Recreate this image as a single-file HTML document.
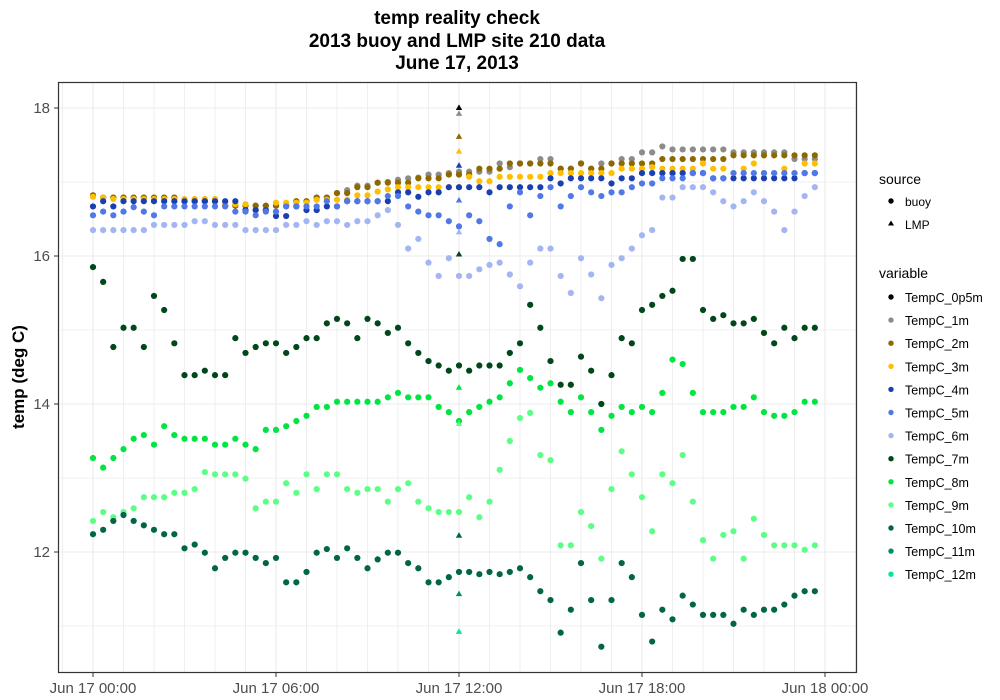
<!DOCTYPE html>
<html><head><meta charset="utf-8">
<style>
html,body{margin:0;padding:0;background:#fff;}
svg{display:block;font-family:"Liberation Sans",Arial,sans-serif;}
</style></head>
<body>
<svg id="chart" width="1000" height="700" viewBox="0 0 1000 700" xmlns="http://www.w3.org/2000/svg">
  <rect x="0" y="0" width="1000" height="700" fill="#fff"/>
  <g font-weight="bold" font-size="19" text-anchor="middle" fill="#000">
    <text x="457" y="24">temp reality check</text>
    <text x="457" y="47">2013 buoy and LMP site 210 data</text>
    <text x="457" y="69">June 17, 2013</text>
  </g>
  <g id="grid"></g>
  <g id="marks"></g>
  <rect x="58.5" y="82.5" width="798" height="590" fill="none" stroke="#333" stroke-width="1.2"/>
  <g id="axes"></g>
  <text transform="translate(24,377) rotate(-90)" font-size="17" font-weight="bold" text-anchor="middle" fill="#000">temp (deg C)</text>
  <g id="legend"></g>
</svg>
<script>
const NS='http://www.w3.org/2000/svg';
const hoursStep = 1/3;
const yTicks=[12,14,16,18];
const xTickLabels=['Jun 17 00:00','Jun 17 06:00','Jun 17 12:00','Jun 17 18:00','Jun 18 00:00'];
const xTickHours=[0,6,12,18,24];
const seriesNames=['TempC_0p5m','TempC_1m','TempC_2m','TempC_3m','TempC_4m','TempC_5m','TempC_6m','TempC_7m','TempC_8m','TempC_9m','TempC_10m','TempC_11m','TempC_12m'];
const seriesColors=['#000000','#8c8c8c','#8c6a00','#ffbf00','#1a3fb0','#5078e6','#a3b5f2','#00471a','#00e640','#5cff85','#006647','#008f6b','#00e6a3'];
const lmpValues=[18.0,17.92,17.61,17.41,17.22,16.75,16.32,16.02,14.22,13.73,12.22,11.43,10.92];
const lmpHour=12;
const temp1m=[16.82,16.79,16.79,16.79,16.79,16.79,16.79,16.79,16.79,16.74,16.74,16.74,16.74,16.68,16.68,16.68,16.68,16.68,16.68,16.68,16.74,16.74,16.79,16.79,16.85,16.89,16.95,16.95,16.99,17.0,17.03,17.05,17.06,17.1,17.1,17.12,17.14,17.14,17.14,17.14,17.25,17.2,17.25,17.25,17.31,17.31,17.18,17.18,17.25,17.18,17.25,17.25,17.31,17.31,17.4,17.4,17.48,17.44,17.44,17.44,17.44,17.44,17.44,17.4,17.4,17.4,17.4,17.4,17.4,17.31,17.31,17.31];
const temp2m=[16.82,16.79,16.79,16.79,16.79,16.79,16.79,16.79,16.79,16.74,16.74,16.74,16.74,16.68,16.68,16.68,16.68,16.68,16.68,16.68,16.74,16.74,16.79,16.79,16.85,16.85,16.93,16.93,16.99,16.99,16.99,16.99,17.05,17.05,17.05,17.1,17.1,17.1,17.18,17.18,17.18,17.25,17.25,17.25,17.25,17.25,17.18,17.18,17.25,17.18,17.18,17.25,17.25,17.25,17.25,17.25,17.31,17.31,17.31,17.31,17.31,17.31,17.31,17.36,17.36,17.36,17.36,17.36,17.36,17.36,17.36,17.36];
const temp3m=[16.8,16.79,16.77,16.77,16.77,16.77,16.77,16.77,16.77,16.77,16.77,16.77,16.77,16.7,16.7,16.7,16.62,16.62,16.72,16.72,16.72,16.72,16.76,16.76,16.76,16.76,16.82,16.82,16.87,16.9,16.93,16.93,16.93,16.93,16.93,16.93,16.93,17.07,17.01,17.01,17.07,17.07,17.07,17.07,17.07,17.12,17.12,17.12,17.12,17.12,17.12,17.12,17.18,17.18,17.18,17.2,17.18,17.18,17.18,17.18,17.25,17.18,17.18,17.12,17.18,17.25,17.12,17.12,17.18,17.12,17.25,17.25];
const temp4m=[16.67,16.74,16.67,16.74,16.74,16.74,16.74,16.74,16.74,16.74,16.74,16.74,16.74,16.74,16.74,16.62,16.62,16.62,16.54,16.54,16.67,16.62,16.62,16.67,16.67,16.74,16.74,16.74,16.74,16.74,16.86,16.86,16.8,16.86,16.86,16.93,16.93,16.93,16.93,16.86,16.93,16.93,16.93,16.93,16.93,17.05,16.98,17.05,17.05,17.05,17.05,16.98,17.05,17.05,17.12,17.12,17.12,17.12,17.12,17.12,17.12,17.05,17.05,17.05,17.05,17.05,17.05,17.05,17.05,17.05,17.12,17.12];
const temp5m=[16.55,16.6,16.55,16.6,16.66,16.6,16.55,16.67,16.67,16.67,16.67,16.67,16.67,16.67,16.6,16.6,16.55,16.6,16.6,16.67,16.67,16.67,16.67,16.74,16.67,16.74,16.74,16.74,16.74,16.81,16.81,16.67,16.6,16.55,16.55,16.47,16.4,16.55,16.47,16.23,16.16,16.67,16.86,16.55,16.81,16.93,16.67,16.81,16.93,16.86,16.81,16.86,16.86,16.93,16.98,16.98,17.05,17.05,17.05,17.12,17.12,17.05,17.05,17.12,17.12,17.12,17.12,17.12,17.12,17.12,17.12,17.12];
const temp6m=[16.35,16.35,16.35,16.35,16.35,16.35,16.42,16.42,16.42,16.42,16.47,16.47,16.42,16.42,16.42,16.35,16.35,16.35,16.35,16.42,16.42,16.47,16.42,16.47,16.47,16.42,16.47,16.47,16.55,16.62,16.42,16.1,16.23,15.91,15.73,15.97,15.73,15.73,15.82,15.88,15.91,15.75,15.59,15.91,16.1,16.1,15.73,15.5,15.97,15.75,15.43,15.88,15.97,16.1,16.28,16.35,16.79,16.79,16.93,16.93,16.93,16.86,16.74,16.67,16.74,16.86,16.74,16.6,16.35,16.6,16.81,16.93];
const temp7m=[15.85,15.65,14.77,15.03,15.03,14.77,15.46,15.27,14.82,14.39,14.39,14.45,14.39,14.39,14.89,14.69,14.77,14.82,14.82,14.69,14.77,14.89,14.89,15.09,15.15,15.09,14.89,15.15,15.09,14.96,15.03,14.82,14.69,14.58,14.52,14.45,14.52,14.45,14.52,14.52,14.52,14.69,14.82,15.34,15.03,14.58,14.26,14.26,14.64,14.45,14.0,14.39,14.89,14.82,15.27,15.34,15.46,15.53,15.96,15.96,15.27,15.15,15.2,15.09,15.09,15.15,14.96,14.82,15.03,14.89,15.03,15.03];
const temp8m=[13.27,13.14,13.27,13.39,13.53,13.58,13.45,13.7,13.58,13.53,13.53,13.53,13.45,13.45,13.53,13.45,13.39,13.65,13.65,13.7,13.77,13.84,13.96,13.96,14.03,14.03,14.03,14.03,14.03,14.09,14.15,14.09,14.09,14.09,13.96,13.89,13.77,13.89,13.96,14.03,14.09,14.28,14.46,14.35,14.22,14.28,14.03,13.89,14.09,13.89,13.65,13.84,13.96,13.89,13.96,13.89,14.15,14.6,14.54,14.15,13.89,13.89,13.89,13.96,13.96,14.09,13.89,13.84,13.84,13.89,14.03,14.03];
const temp9m=[12.42,12.54,12.47,12.54,12.59,12.74,12.74,12.74,12.8,12.8,12.85,13.08,13.05,13.05,13.05,12.99,12.59,12.68,12.68,12.93,12.8,13.05,12.85,13.05,13.05,12.85,12.8,12.85,12.85,12.68,12.85,12.93,12.68,12.59,12.54,12.54,12.54,12.74,12.47,12.68,13.11,13.5,13.81,13.88,13.31,13.24,12.09,12.09,12.54,12.35,11.91,12.85,13.36,13.05,12.74,12.28,13.05,12.93,13.31,12.68,12.16,11.91,12.23,12.28,11.91,12.45,12.23,12.09,12.09,12.09,12.03,12.09];
const temp10m=[12.24,12.3,12.42,12.5,12.42,12.36,12.3,12.24,12.24,12.05,12.1,11.99,11.78,11.92,11.99,11.99,11.92,11.85,11.92,11.59,11.59,11.73,11.99,12.04,11.92,12.05,11.92,11.78,11.9,11.99,11.99,11.85,11.78,11.59,11.59,11.66,11.73,11.73,11.7,11.73,11.7,11.73,11.78,11.66,11.47,11.35,10.91,11.22,11.85,11.35,10.72,11.35,11.85,11.66,11.15,10.79,11.22,11.09,11.41,11.29,11.15,11.15,11.15,11.03,11.22,11.15,11.22,11.22,11.29,11.41,11.47,11.47];
const buoySeries=[null,temp1m,temp2m,temp3m,temp4m,temp5m,temp6m,temp7m,temp8m,temp9m,temp10m,null,null];

const X0=93, XPH=30.5, Y18=108, YPD=74;
function xScale(h){return X0+h*XPH;}
function yScale(v){return Y18+(18-v)*YPD;}

const grid=document.getElementById('grid');
const bg=document.createElementNS(NS,'rect');
bg.setAttribute('x',58.5);bg.setAttribute('y',82.5);bg.setAttribute('width',798);bg.setAttribute('height',590);bg.setAttribute('fill','#fff');


grid.appendChild(bg);
for(let h=-1;h<=25;h++){
  const x=xScale(h); if(x<59||x>856)continue;
  const l=document.createElementNS(NS,'line');
  l.setAttribute('x1',x);l.setAttribute('x2',x);l.setAttribute('y1',83);l.setAttribute('y2',672);
  l.setAttribute('stroke','#ebebeb');l.setAttribute('stroke-width',h%6===0?1.1:0.8);
  
  
  grid.appendChild(l);
}
for(let v=11;v<=18;v+=1){
  const y=yScale(v);
  const l=document.createElementNS(NS,'line');
  l.setAttribute('x1',59);l.setAttribute('x2',856);l.setAttribute('y1',y);l.setAttribute('y2',y);
  l.setAttribute('stroke','#ebebeb');l.setAttribute('stroke-width',v%2===0?1.1:0.8);
  
  
  grid.appendChild(l);
}

const marks=document.getElementById('marks');
buoySeries.forEach((arr,si)=>{
  if(!arr)return;
  const g=document.createElementNS(NS,'g');
  
  
  arr.forEach((v,i)=>{
    const c=document.createElementNS(NS,'circle');
    c.setAttribute('cx',xScale(i*hoursStep));c.setAttribute('cy',yScale(v));c.setAttribute('r',3.1);
    c.setAttribute('fill',seriesColors[si]);
    
    
    g.appendChild(c);
  });
  marks.appendChild(g);
});
lmpValues.forEach((v,si)=>{
  const x=xScale(lmpHour), y=yScale(v);
  const p=document.createElementNS(NS,'polygon');
  p.setAttribute('points',`${x},${y-3.6} ${x-3.2},${y+2} ${x+3.2},${y+2}`);
  p.setAttribute('fill',seriesColors[si]);
  
  
  marks.appendChild(p);
});

const axes=document.getElementById('axes');
yTicks.forEach(v=>{
  const y=yScale(v);
  const t=document.createElementNS(NS,'line');
  t.setAttribute('x1',54);t.setAttribute('x2',58);t.setAttribute('y1',y);t.setAttribute('y2',y);t.setAttribute('stroke','#333');
  
  
  axes.appendChild(t);
  const tx=document.createElementNS(NS,'text');
  tx.setAttribute('x',50);tx.setAttribute('y',y+5);tx.setAttribute('text-anchor','end');tx.setAttribute('font-size','15');tx.setAttribute('fill','#4d4d4d');
  tx.textContent=String(v);
  
  
  axes.appendChild(tx);
});
xTickHours.forEach((h,i)=>{
  const x=xScale(h);
  const t=document.createElementNS(NS,'line');
  t.setAttribute('x1',x);t.setAttribute('x2',x);t.setAttribute('y1',673);t.setAttribute('y2',677);t.setAttribute('stroke','#333');
  
  
  axes.appendChild(t);
  const tx=document.createElementNS(NS,'text');
  tx.setAttribute('x',x);tx.setAttribute('y',693);tx.setAttribute('text-anchor','middle');tx.setAttribute('font-size','15');tx.setAttribute('fill','#4d4d4d');
  tx.textContent=xTickLabels[i];
  
  
  axes.appendChild(tx);
});

const legend=document.getElementById('legend');
function addText(x,y,s,size,name){
  const t=document.createElementNS(NS,'text');
  t.setAttribute('x',x);t.setAttribute('y',y);t.setAttribute('font-size',size);t.setAttribute('fill','#000');
  t.textContent=s;
  
  
  legend.appendChild(t);
}
addText(879,184,'source',14,'legend-title-source');
const c1=document.createElementNS(NS,'circle');
c1.setAttribute('cx',891);c1.setAttribute('cy',201);c1.setAttribute('r',2.7);c1.setAttribute('fill','#000');


legend.appendChild(c1);
addText(905,206,'buoy',12,'legend-entry-buoy');
const tr=document.createElementNS(NS,'polygon');
tr.setAttribute('points','891,220.5 888,225.5 894,225.5');tr.setAttribute('fill','#000');


legend.appendChild(tr);
addText(905,229,'LMP',12,'legend-entry-lmp');
addText(879,278,'variable',14,'legend-title-variable');
seriesNames.forEach((n,i)=>{
  const y=297+i*23.1;
  const c=document.createElementNS(NS,'circle');
  c.setAttribute('cx',891);c.setAttribute('cy',y);c.setAttribute('r',2.7);c.setAttribute('fill',seriesColors[i]);
  
  
  legend.appendChild(c);
  addText(905,y+5,n,12.5,'legend-entry');
});
</script>
</body></html>
